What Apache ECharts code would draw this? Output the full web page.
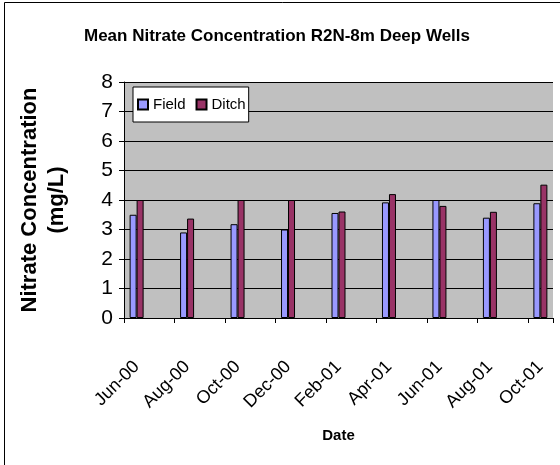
<!DOCTYPE html>
<html>
<head>
<meta charset="utf-8">
<script src="https://cdn.jsdelivr.net/npm/echarts@6/dist/echarts.min.js"></script>
<style>
  html, body { margin: 0; padding: 0; background: #fff; }
  #chart { width: 560px; height: 465px; }
</style>
</head>
<body>
<div id="chart"></div>
<script>
// months on the date axis (Excel date axis, base unit = month)
var months = ['Jun-00', 'Jul-00', 'Aug-00', 'Sep-00', 'Oct-00', 'Nov-00', 'Dec-00', 'Jan-01', 'Feb-01',
  'Mar-01', 'Apr-01', 'May-01', 'Jun-01', 'Jul-01', 'Aug-01', 'Sep-01', 'Oct-01'];
// mean nitrate (mg/L), '-' = no sample that month
var field = [3.5, '-', 2.9, '-', 3.18, '-', 3.0, '-', 3.56, '-', 3.92, '-', 4.0, '-', 3.4, '-', 3.89];
var ditch = [4.0, '-', 3.37, '-', 4.0, '-', 4.0, '-', 3.61, '-', 4.2, '-', 3.8, '-', 3.6, '-', 4.52];
var yTicks = [0, 1, 2, 3, 4, 5, 6, 7, 8];

var font = 'Liberation Sans, Arial, sans-serif';
var chart = echarts.init(document.getElementById('chart'));

var option = {
  backgroundColor: '#fff',
  animation: false,
  title: {
    text: 'Mean Nitrate Concentration R2N-8m Deep Wells',
    left: 272,
    top: 23,
    textAlign: 'center',
    textStyle: { fontFamily: font, fontSize: 17, fontWeight: 'bold', color: '#000' }
  },
  legend: {
    left: 133,
    top: 87,
    padding: [10, 3, 10, 4],
    itemWidth: 10,
    itemHeight: 10,
    itemGap: 10,
    backgroundColor: '#fff',
    borderColor: '#000',
    borderWidth: 1,
    borderRadius: 0,
    icon: 'rect',
    textStyle: { fontFamily: font, fontSize: 15, color: '#000' },
    data: ['Field', 'Ditch']
  },
  grid: {
    left: 124,
    right: 7,
    top: 82,
    bottom: 147,
    show: true,
    backgroundColor: '#c0c0c0',
    borderWidth: 0
  },
  xAxis: {
    type: 'category',
    data: months,
    boundaryGap: true,
    name: 'Date',
    nameLocation: 'middle',
    nameGap: 110,
    nameTextStyle: { fontFamily: font, fontSize: 15, fontWeight: 'bold', color: '#000' },
    axisLine: { lineStyle: { color: '#000', width: 1 } },
    axisTick: { show: true, interval: 1, length: 5, lineStyle: { color: '#000' } },
    axisLabel: {
      interval: 1,
      rotate: 45,
      margin: 46,
      fontFamily: font,
      fontSize: 18,
      color: '#000'
    },
    splitLine: { show: false }
  },
  yAxis: {
    type: 'value',
    min: yTicks[0],
    max: yTicks[yTicks.length - 1],
    interval: 1,
    name: 'Nitrate Concentration\n(mg/L)',
    nameLocation: 'middle',
    nameRotate: 90,
    nameGap: 54,
    nameTextStyle: { fontFamily: font, fontSize: 22, fontWeight: 'bold', color: '#000', lineHeight: 27 },
    axisLine: { show: true, lineStyle: { color: '#000', width: 1 } },
    axisTick: { show: true, length: 5, lineStyle: { color: '#000' } },
    axisLabel: { margin: 11, fontFamily: font, fontSize: 21, color: '#000' },
    splitLine: { show: true, lineStyle: { color: '#000', width: 1 } }
  },
  series: [
    {
      name: 'Field',
      type: 'bar',
      data: field,
      barWidth: 7,
      barGap: '0%',
      itemStyle: { color: '#9999ff', borderColor: '#000', borderWidth: 1 }
    },
    {
      name: 'Ditch',
      type: 'bar',
      data: ditch,
      barWidth: 7,
      barGap: '0%',
      itemStyle: { color: '#993366', borderColor: '#000', borderWidth: 1 }
    }
  ],
  graphic: [
    {
      type: 'rect',
      silent: true,
      z: 100,
      shape: { x: 4.5, y: 2.5, width: 600, height: 600 },
      style: { fill: 'none', stroke: '#000', lineWidth: 1 }
    }
  ]
};

chart.setOption(option);
</script>
</body>
</html>
